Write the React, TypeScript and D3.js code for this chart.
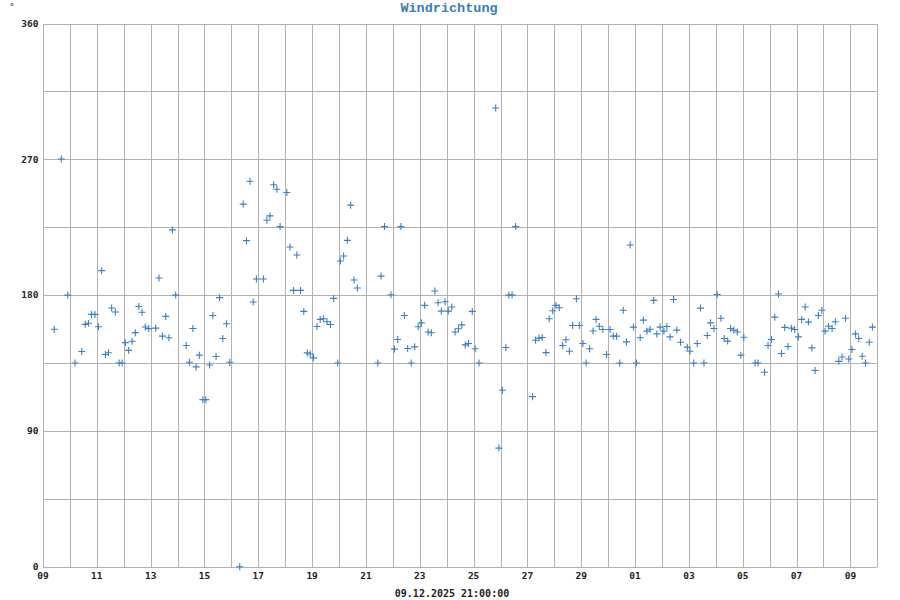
import React from "react";
import * as d3 from "d3";

// Offsets in days from 09.11.2025 00:00 and wind direction (°)
const dayOffsets: number[] = [
  0.42, 0.68, 0.92, 1.19, 1.44, 1.57, 1.69, 1.80, 1.93, 2.06, 2.18, 2.32, 2.43, 2.55, 2.69, 2.83, 2.94,
  3.06, 3.18, 3.31, 3.43, 3.56, 3.68, 3.80, 3.93, 4.19, 4.31, 4.44, 4.56, 4.68, 4.81, 4.93,
  5.32, 5.44, 5.57, 5.69, 5.81, 5.94, 6.05, 6.19, 6.31, 6.43, 6.56, 6.68, 6.82, 6.94,
  7.31, 7.44, 7.56, 7.69, 7.81, 7.93, 8.19, 8.32, 8.43, 8.57, 8.69, 8.81, 9.06, 9.18, 9.31, 9.43, 9.57, 9.69, 9.82, 9.93,
  10.05, 10.18, 10.30, 10.42, 10.55, 10.68, 10.80, 10.95, 11.05, 11.17, 11.31, 11.43, 11.56, 11.68,
  12.44, 12.56, 12.69, 12.93, 13.06, 13.18, 13.30, 13.43, 13.55, 13.68, 13.81, 13.94,
  14.06, 14.18, 14.31, 14.43, 14.56, 14.68, 14.80, 14.94, 15.06, 15.19, 15.31, 15.44, 15.56, 15.69, 15.81, 15.95,
  16.06, 16.20, 16.82, 16.94, 17.07, 17.20, 17.31, 17.43, 17.56,
  18.19, 18.30, 18.43, 18.55, 18.69, 18.81, 18.94, 19.06, 19.18, 19.31, 19.43, 19.56, 19.68, 19.82, 19.93,
  20.06, 20.18, 20.31, 20.44, 20.55, 20.67, 20.80, 20.94, 21.07, 21.19, 21.31, 21.43, 21.56, 21.68, 21.82, 21.94,
  22.05, 22.19, 22.31, 22.44, 22.56, 22.69, 22.81, 22.93, 23.07, 23.18, 23.30, 23.43, 23.55, 23.69, 23.94,
  24.04, 24.18, 24.31, 24.43, 24.56, 24.68, 24.80, 24.93, 25.05, 25.19, 25.31, 25.44, 25.55, 25.67, 25.80, 25.93,
  26.04, 26.46, 26.57, 26.81, 26.94, 27.07, 27.19, 27.33, 27.44, 27.56, 27.68, 27.81, 27.93,
  28.07, 28.19, 28.32, 28.44, 28.57, 28.69, 28.81, 28.94, 29.06, 29.19, 29.32, 29.44, 29.57, 29.69, 29.82, 29.94,
  30.06, 30.19, 30.31, 30.44, 30.56, 30.70, 30.82,
];

const directions: number[] = [
  157.4, 270.2, 180, 135, 142.6, 160.6, 161.3, 167.2, 167.2, 159, 196.2, 140.6, 141.8, 171.5, 168.8, 135, 135,
  148.5, 143.4, 149.4, 155.1, 172.4, 168.6, 158.9, 157.8, 158.1, 191.3, 152.8, 165.9, 151.7, 223.2, 180,
  146.6, 135.5, 157.9, 132.4, 140.2, 110.7, 110.7, 133.7, 166.5, 139.3, 178.3, 151.2, 161, 135.5,
  0, 240.3, 216.1, 255.5, 175.4, 190.7, 190.7, 229.6, 232.5, 253.1, 250.2, 225.4, 248, 211.9, 183.1, 206.6, 183.1, 169.2, 141.7, 141,
  138.4, 159.2, 163.9, 164.3, 162.3, 160.5, 177.8, 135, 202.6, 205.9, 216.3, 239.6, 190, 184.7,
  135, 192.6, 225.4, 180.2, 144.2, 150.6, 225.4, 166.5, 144.6, 135, 145.7, 159,
  161.6, 173.2, 155.5, 155, 182.7, 174.9, 169.4, 175.6, 169.4, 172.1, 155.5, 157.7, 160.3, 147, 147.9, 169.2,
  144.4, 135, 304, 78.6, 116.9, 145.3, 180, 180, 225.4,
  112.7, 150.1, 151.5, 151.9, 141.9, 164.3, 169.6, 173.2, 171.6, 146.6, 150.4, 142.8, 159.9, 177.6, 159.9,
  147.9, 135, 144.4, 156.2, 163.9, 159.4, 157.2, 140.6, 157.2, 152.8, 152.8, 135, 170, 149, 213.2, 158.8,
  135, 151.7, 163.4, 156.1, 157.4, 176.5, 154.3, 158.8, 156.1, 159.2, 152.3, 177.1, 156.8, 148.8, 145.5,
  142.8, 135, 147.9, 171.4, 135, 153.2, 161.6, 157.9, 180.4, 164.7, 151.2, 149.5, 157.9, 156.8, 155.5, 140.2,
  152.1, 135, 135, 128.9, 146.6, 150.6, 165.4, 180.7, 141.3, 158.6, 145.9, 158.1, 157.2,
  152.3, 163.9, 172.1, 162.1, 145, 130, 166.5, 170, 156.1, 159.4, 157.9, 162.3, 136.1, 139, 164.7, 137.7,
  143.9, 154.3, 151.2, 139.5, 135, 148.8, 158.8,
];

const yTickValues: number[] = [0, 90, 180, 270, 360];
const yGridValues: number[] = [0, 45, 90, 135, 180, 225, 270, 315, 360];
const title = "Windrichtung";
const unitLabel = "°";
const footerLabel = "09.12.2025 21:00:00";

const startDate = new Date(2025, 10, 9, 0, 0, 0);
const endDate = new Date(2025, 11, 10, 0, 0, 0);

const W = 900;
const H = 600;
const M = { left: 43, right: 22.7, top: 23.5, bottom: 33.3 };

export default function App() {
  const x = d3.scaleTime().domain([startDate, endDate]).range([M.left, W - M.right]);
  const y = d3.scaleLinear().domain([0, 360]).range([H - M.bottom, M.top]);

  const dayTicks = d3.timeDay.range(startDate, d3.timeDay.offset(endDate, 1));
  const labelTicks = dayTicks.filter((_, i) => i % 2 === 0);
  const fmt = d3.timeFormat("%d");

  const points = dayOffsets.map((d, i) => ({
    t: new Date(startDate.getTime() + d * 86400000),
    v: directions[i],
  }));

  const gridColor = "#b2b2b2";
  const markColor = "#3d7fc2";
  const tickFont = "'DejaVu Sans Mono', monospace";
  const snap = (v: number) => Math.round(v) + 0.5;

  return (
    <svg
      width={W}
      height={H}
      style={{ position: "absolute", left: 0, top: 0, background: "#fff" }}
    >
      <rect x={0} y={0} width={W} height={H} fill="#fff" />
      <g shapeRendering="crispEdges" stroke={gridColor} strokeWidth={1}>
        {dayTicks.map((d, i) => (
          <line key={"v" + i} x1={snap(x(d))} x2={snap(x(d))} y1={y(360)} y2={y(0)} />
        ))}
        {yGridValues.map((v) => (
          <line key={"h" + v} x1={M.left} x2={W - M.right} y1={snap(y(v))} y2={snap(y(v))} />
        ))}
      </g>
      <g fill="#222" fontFamily={tickFont} fontWeight="bold" fontSize={9.5}>
        {yTickValues.map((v) => (
          <text key={"yl" + v} x={38.5} y={y(v)} dy="0.35em" textAnchor="end">
            {v}
          </text>
        ))}
        {labelTicks.map((d, i) => (
          <text key={"xl" + i} x={x(d)} y={579} textAnchor="middle">
            {fmt(d)}
          </text>
        ))}
        <text x={12} y={10} textAnchor="middle" fontSize={9} fontWeight="normal">
          {unitLabel}
        </text>
        <text x={452} y={597} textAnchor="middle" fontSize={10}>
          {footerLabel}
        </text>
      </g>
      <text
        x={449}
        y={12}
        textAnchor="middle"
        fontFamily="'Liberation Mono', 'Courier New', monospace"
        fontWeight="bold"
        fontSize={13.5}
        fill="#3a7cc0"
      >
        {title}
      </text>
      <g stroke={markColor} strokeWidth={1.1} fill="none">
        {points.map((p, i) => {
          const cx = x(p.t);
          const cy = y(p.v);
          return (
            <path
              key={"p" + i}
              d={`M${cx - 3.5},${cy}H${cx + 3.5}M${cx},${cy - 3.5}V${cy + 3.5}`}
            />
          );
        })}
      </g>
    </svg>
  );
}
